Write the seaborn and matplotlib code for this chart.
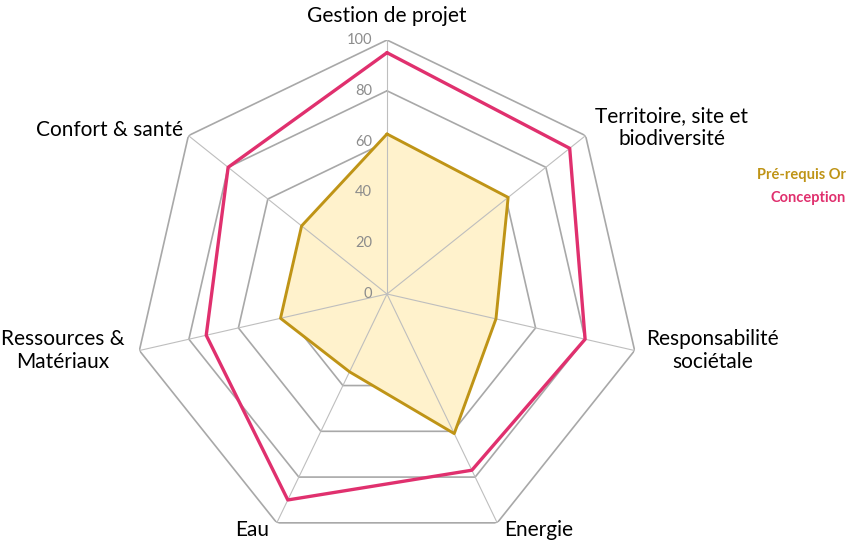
import numpy as np
import pandas as pd
import matplotlib
matplotlib.use("Agg")
import matplotlib.pyplot as plt
import seaborn as sns

categories = ["Gestion de projet", "Territoire, site et\nbiodiversité", "Responsabilité\nsociétale",
              "Energie", "Eau", "Ressources &\nMatériaux", "Confort & santé"]
prerequis_or = [63, 61, 44, 61, 34, 43, 43]
conception = [95, 92, 80, 77, 90, 73, 80]
series_names = ["Pré-requis Or", "Conception"]
tick_values = [0, 20, 40, 60, 80, 100]

GOLD = "#BF9416"
PINK = "#E0306E"
FILL = "#FFF2CC"

sns.set_theme(style="white")
plt.rcParams["font.family"] = ["Lato", "DejaVu Sans"]

fig = plt.figure(figsize=(8.52, 5.52), dpi=100)
ax = fig.add_axes([133 / 852, 4 / 552, 508 / 852, 508 / 552], projection="polar")
ax.set_theta_zero_location("N")
ax.set_theta_direction(-1)
ax.axis("off")

n = len(categories)
theta = np.arange(n) * 2 * np.pi / n
theta_closed = np.append(theta, 2 * np.pi)

# polygon grid
for v in tick_values[1:]:
    ax.plot(theta_closed, [v] * (n + 1), color="#A8A8A8", lw=1.2, zorder=1)
# spokes
for t in theta:
    ax.plot([t, t], [0, 100], color="#BEBEBE", lw=0.8, zorder=3)

# data
rows = []
for name, vals in zip(series_names, [prerequis_or, conception]):
    closed = list(vals) + [vals[0]]
    for t, v in zip(theta_closed, closed):
        rows.append({"theta": t, "value": v, "series": name})
df = pd.DataFrame(rows)

ax.fill(theta_closed, list(prerequis_or) + [prerequis_or[0]], color=FILL, zorder=2, lw=0)
sns.lineplot(data=df, x="theta", y="value", hue="series", palette={series_names[0]: GOLD, series_names[1]: PINK},
             sort=False, estimator=None, legend=False, ax=ax, zorder=4)
for line, w in zip(ax.get_lines()[-2:], [2.1, 2.4]):
    line.set_linewidth(w)
ax.set_ylim(0, 100)
ax.set_xlim(0, 2 * np.pi)
ax.axis("off")

# radial tick labels
for v in tick_values:
    ax.annotate(str(v), xy=(0, v), xytext=(-15, 0), textcoords="offset pixels",
                ha="right", va="center", color="#8C8C8C", fontsize=10.5, zorder=5)

# category labels
offsets = [(0, 24), (86, 8), (78, 0), (41, -7), (-25, -7), (-77, 0), (-79, 6)]
for t, lab, off in zip(theta, categories, offsets):
    ax.annotate(lab, xy=(t, 100), xytext=off, textcoords="offset pixels",
                ha="center", va="center", multialignment="center",
                fontsize=15, color="#000000", linespacing=1.2)

# legend as text
fig.text(846 / 852, 1 - 175 / 552, series_names[0], ha="right", va="center",
         color=GOLD, fontsize=10.5, fontweight="bold")
fig.text(846 / 852, 1 - 198 / 552, series_names[1], ha="right", va="center",
         color=PINK, fontsize=10.5, fontweight="bold")

fig.savefig("out.png", dpi=100)
